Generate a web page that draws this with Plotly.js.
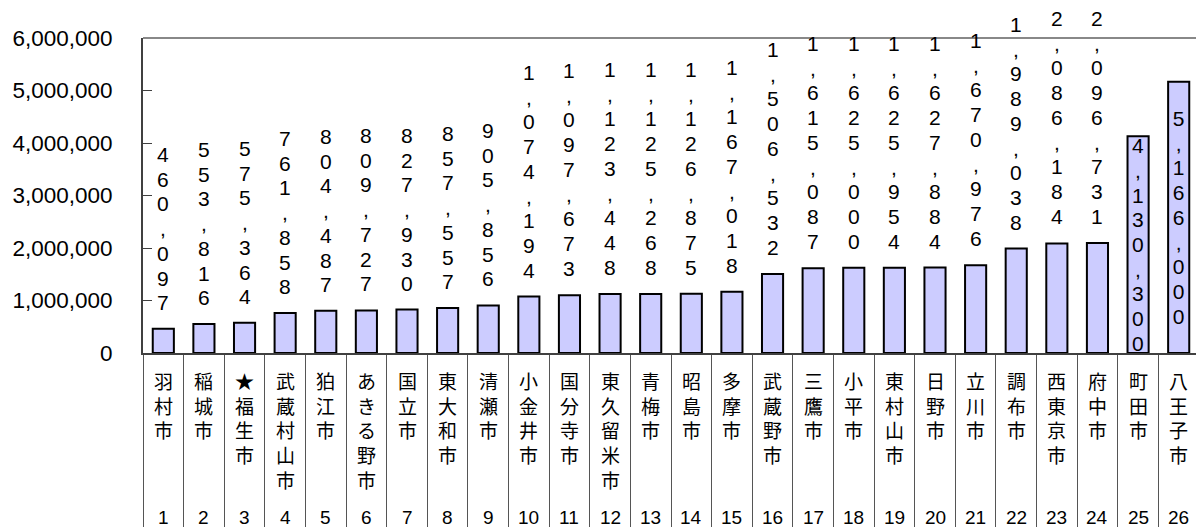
<!DOCTYPE html>
<html>
<head>
<meta charset="utf-8">
<script src="https://cdn.plot.ly/plotly-3.0.1.min.js"></script>
<style>
html,body{margin:0;padding:0;overflow:hidden;background:#fff;}
#chart{width:1200px;height:527px;}
</style>
</head>
<body>
<div id="chart"></div>
<script>
const cities = ["羽村市","稲城市","★福生市","武蔵村山市","狛江市","あきる野市","国立市","東大和市","清瀬市","小金井市","国分寺市","東久留米市","青梅市","昭島市","多摩市","武蔵野市","三鷹市","小平市","東村山市","日野市","立川市","調布市","西東京市","府中市","町田市","八王子市"];
const values = [460097,553816,575364,761858,804487,809727,827930,857557,905856,1074194,1097673,1123448,1125268,1126875,1167018,1506532,1615087,1625000,1625954,1627884,1670976,1989038,2086184,2096731,4130300,5166000];
const ranks = ["1","2","3","4","5","6","7","8","9","10","11","12","13","14","15","16","17","18","19","20","21","22","23","24","25","26"];
const insideLabel = [false,false,false,false,false,false,false,false,false,false,false,false,false,false,false,false,false,false,false,false,false,false,false,false,true,true];
const yTicks = [0,1000000,2000000,3000000,4000000,5000000,6000000];

const catKeys = cities.map((c,i)=>ranks[i]+"_"+c);
const vertical = s => s.split("").join("<br>");
const verticalBig = s => s.split("").map(c => '<span style="font-size:21px">' + c + '</span>').join("<br>");
const fmt = v => v.toLocaleString("en-US");

const labelText = values.map(v => verticalBig(fmt(v)));
const numFont = "Liberation Sans, Arial, sans-serif";

const trace = {
  type: "bar",
  x: catKeys,
  y: values,
  width: 0.52,
  marker: {color: "#CCCCFF", line: {color: "#000000", width: 2}},
  text: labelText.map((t,i)=> insideLabel[i] ? t : ""),
  textposition: insideLabel.map(b => b ? "inside" : "none"),
  insidetextanchor: "middle",
  textangle: 0,
  constraintext: "none",
  cliponaxis: false,
  textfont: {family: numFont, size: 19, color: "#000"},
  hoverinfo: "skip"
};

const annotations = [];
values.forEach((v,i)=>{
  if (!insideLabel[i]) {
    annotations.push({
      x: catKeys[i], y: v, xref: "x", yref: "y",
      text: labelText[i], showarrow: false,
      yanchor: "bottom", xanchor: "center", yshift: 13,
      font: {family: numFont, size: 19, color: "#000"}
    });
  }
  annotations.push({
    x: catKeys[i], y: 0, xref: "x", yref: "paper",
    text: vertical(cities[i]), showarrow: false,
    yanchor: "top", xanchor: "center", yshift: -12,
    font: {family: "Noto Sans CJK JP, sans-serif", size: 19, color: "#000"}
  });
  annotations.push({
    x: catKeys[i], y: 0, xref: "x", yref: "paper",
    text: ranks[i], showarrow: false,
    yanchor: "middle", xanchor: "center", yshift: -164,
    font: {family: numFont, size: 19, color: "#000"}
  });
});

const layout = {
  width: 1200, height: 527,
  margin: {l: 143, r: 1, t: 38, b: 173.5},
  paper_bgcolor: "#fff", plot_bgcolor: "#fff",
  showlegend: false,
  bargap: 0,
  xaxis: {
    type: "category", range: [-0.5, 25.5], fixedrange: true,
    showline: true, linecolor: "#404040", linewidth: 2,
    ticks: "outside", tickson: "boundaries", ticklen: 176, tickcolor: "#555", tickwidth: 1,
    showticklabels: false, showgrid: false, zeroline: false
  },
  yaxis: {
    range: [0, 6000000], fixedrange: true,
    tickvals: yTicks, tickformat: ",d",
    showline: true, linecolor: "#404040", linewidth: 2,
    ticks: "inside", ticklen: 9, tickcolor: "#404040", tickwidth: 1,
    showgrid: false, zeroline: false,
    ticklabelstandoff: 24,
    tickfont: {family: numFont, size: 22.5, color: "#000"}
  },
  shapes: [{
    type: "line", xref: "paper", yref: "paper", x0: 0, x1: 1, y0: 1, y1: 1,
    line: {color: "#888", width: 2}
  }],
  annotations: annotations
};

Plotly.newPlot("chart", [trace], layout, {staticPlot: true, displayModeBar: false});
</script>
</body>
</html>
